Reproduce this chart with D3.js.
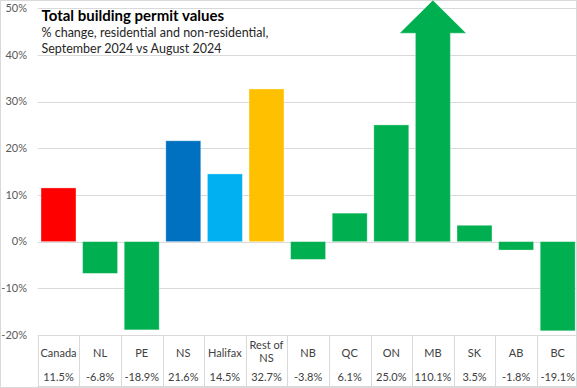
<!DOCTYPE html>
<html>
<head>
<meta charset="utf-8">
<script src="https://cdn.jsdelivr.net/npm/d3@7"></script>
<style>
  html, body { margin: 0; padding: 0; background: #fff; }
  svg { display: block; font-family: Lato, "Open Sans", sans-serif; }
</style>
</head>
<body>
<svg id="chart" width="577" height="388"></svg>
<script>
const categories = ["Canada", "NL", "PE", "NS", "Halifax", "Rest of NS", "NB", "QC", "ON", "MB", "SK", "AB", "BC"];
const values = [11.5, -6.8, -18.9, 21.6, 14.5, 32.7, -3.8, 6.1, 25.0, 110.1, 3.5, -1.8, -19.1];
const valueLabels = ["11.5%", "-6.8%", "-18.9%", "21.6%", "14.5%", "32.7%", "-3.8%", "6.1%", "25.0%", "110.1%", "3.5%", "-1.8%", "-19.1%"];
const barColors = ["#FF0000", "#00B050", "#00B050", "#0070C0", "#00B0F0", "#FFC000", "#00B050", "#00B050", "#00B050", "#00B050", "#00B050", "#00B050", "#00B050"];
const yTicks = [-20, -10, 0, 10, 20, 30, 40, 50];
const yDomain = [-20, 50];
const titleText = "Total building permit values";
const subtitleLines = ["% change, residential and non-residential,", "September 2024 vs August 2024"];

const svg = d3.select("#chart");
const W = 577, H = 388;

const x = d3.scaleBand().domain(categories).range([37.7, 578.5]).paddingInner(0.16).paddingOuter(0.08);
const y = d3.scaleLinear().domain(yDomain).range([335, 8.2]);

// outer border
svg.append("rect").attr("x", 0.5).attr("y", 0.5).attr("width", W - 1).attr("height", H - 1)
  .attr("fill", "none").attr("stroke", "#D9D9D9");

// gridlines
svg.append("g").selectAll("line").data(yTicks).join("line")
  .attr("x1", 37.7).attr("x2", W)
  .attr("y1", d => Math.round(y(d)) + 0.5).attr("y2", d => Math.round(y(d)) + 0.5)
  .attr("stroke", "#D9D9D9").attr("stroke-width", 1);

// y axis labels
svg.append("g").selectAll("text").data(yTicks).join("text")
  .attr("x", 27).attr("y", d => y(d)).attr("dy", "0.35em")
  .attr("text-anchor", "end").attr("font-size", 11).attr("fill", "#595959")
  .text(d => d + "%");

// bars
const yMaxPx = y(yDomain[1]);
const bars = svg.append("g");
categories.forEach((c, i) => {
  const v = values[i];
  const bx = x(c), bw = x.bandwidth();
  if (v > yDomain[1]) {
    // overflow arrow
    const tip = yMaxPx - 8;
    const headBase = tip + 33;
    const cx = bx + bw / 2;
    const hw = x.step() * 0.8;
    const p = d3.path();
    p.moveTo(bx, y(0));
    p.lineTo(bx, headBase);
    p.lineTo(cx - hw, headBase);
    p.lineTo(cx, tip);
    p.lineTo(cx + hw, headBase);
    p.lineTo(bx + bw, headBase);
    p.lineTo(bx + bw, y(0));
    p.closePath();
    bars.append("path").attr("d", p.toString()).attr("fill", barColors[i])
      .attr("stroke", "#ffffff").attr("stroke-opacity", 0.4).attr("stroke-width", 0.8);
  } else {
    const y0 = y(Math.max(0, v)), y1 = y(Math.min(0, v));
    bars.append("rect").attr("x", bx).attr("y", y0).attr("width", bw).attr("height", y1 - y0)
      .attr("fill", barColors[i]).attr("stroke", "#ffffff").attr("stroke-opacity", 0.4).attr("stroke-width", 0.8);
  }
});

// data table
const tTop = y(yDomain[0]), tBot = 387;
const table = svg.append("g");
const edges = categories.map(c => x(c) - x.step() * x.paddingInner() / 2);
edges.push(edges[edges.length - 1] + x.step());
table.selectAll("line.v").data(edges).join("line").attr("class", "v")
  .attr("x1", d => Math.round(d) + 0.5).attr("x2", d => Math.round(d) + 0.5)
  .attr("y1", tTop).attr("y2", tBot).attr("stroke", "#D9D9D9");
table.append("line").attr("x1", edges[0]).attr("x2", W).attr("y1", tBot - 0.5).attr("y2", tBot - 0.5).attr("stroke", "#D9D9D9");

categories.forEach((c, i) => {
  const cx = x(c) + x.bandwidth() / 2;
  const parts = c === "Rest of NS" ? ["Rest of", "NS"] : [c];
  const t = table.append("text").attr("x", cx).attr("text-anchor", "middle")
    .attr("font-size", 11).attr("fill", "#404040");
  if (parts.length === 1) {
    t.attr("y", 356.5).text(c);
  } else {
    parts.forEach((p, k) => t.append("tspan").attr("x", cx).attr("y", 349 + k * 12.5).text(p));
  }
  table.append("text").attr("x", cx).attr("y", 381).attr("text-anchor", "middle")
    .attr("font-size", 11).attr("fill", "#404040").text(valueLabels[i]);
});

// title
svg.append("text").attr("x", 41.5).attr("y", 21).attr("font-size", 15).attr("font-weight", "bold")
  .attr("fill", "#000").text(titleText);
subtitleLines.forEach((s, k) => {
  svg.append("text").attr("x", 41.5).attr("y", 37 + k * 15.5).attr("font-size", 12.5)
    .attr("fill", "#262626").text(s);
});
</script>
</body>
</html>
